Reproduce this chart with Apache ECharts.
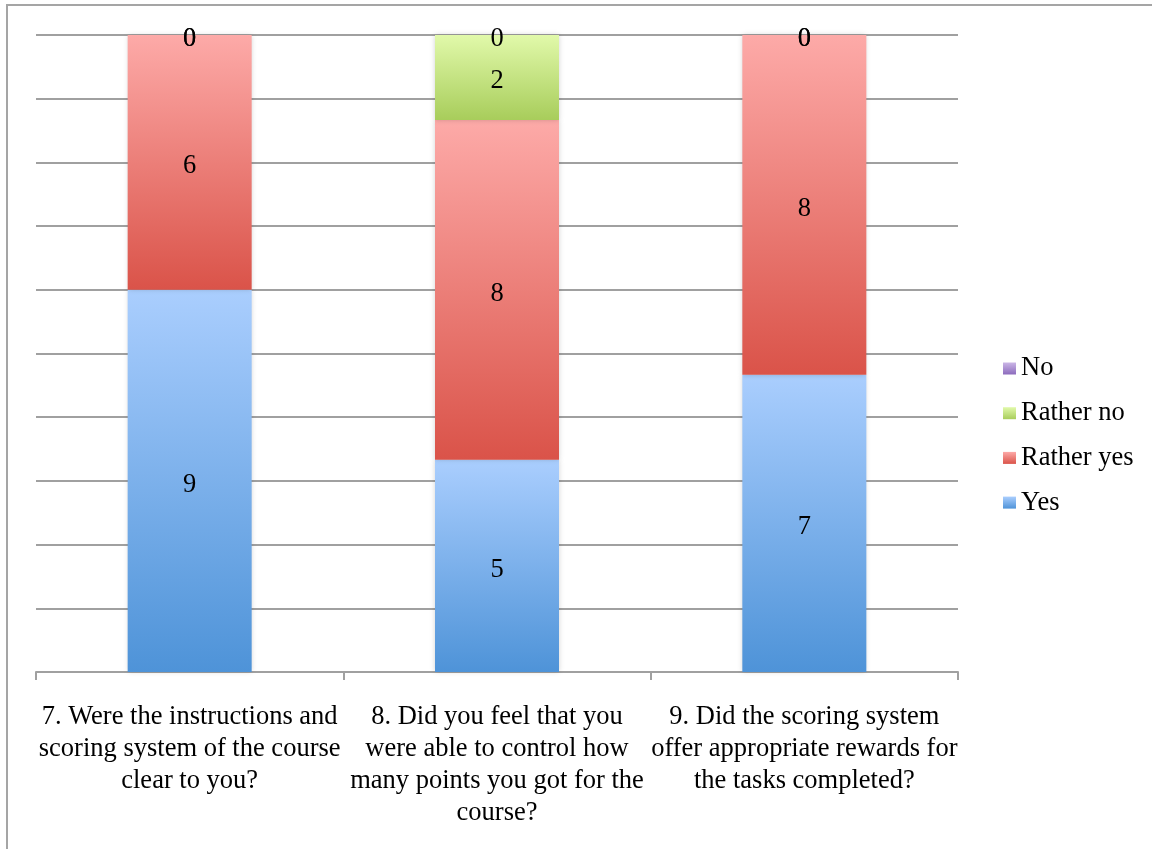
<!DOCTYPE html>
<html>
<head>
<meta charset="utf-8">
<script src="https://cdn.jsdelivr.net/npm/echarts@6/dist/echarts.min.js"></script>
<style>
  html, body { margin: 0; padding: 0; background: #fff; }
  #chart { width: 1152px; height: 849px; }
</style>
</head>
<body>
<div id="chart"></div>
<script>
// Survey questions (x-axis categories)
const questions = [
  '7. Were the instructions and\nscoring system of the course\nclear to you?',
  '8. Did you feel that you\nwere able to control how\nmany points you got for the\ncourse?',
  '9. Did the scoring system\noffer appropriate rewards for\nthe tasks completed?'
];

// Answer counts per question
const yesCounts = [9, 5, 7];
const ratherYesCounts = [6, 8, 8];
const ratherNoCounts = [0, 2, 0];
const noCounts = [0, 0, 0];

const serif = 'Liberation Serif';
const textSize = 26.5;

function grad(top, bottom) {
  return new echarts.graphic.LinearGradient(0, 0, 0, 1, [
    { offset: 0, color: top },
    { offset: 1, color: bottom }
  ]);
}

const palette = {
  yes: grad('#aacefe', '#4e93d8'),
  ratherYes: grad('#fdaaa8', '#da5349'),
  ratherNo: grad('#e1f9aa', '#a8cd5b'),
  no: grad('#cbb6e6', '#8c6bbd')
};

function makeSeries(name, data, color) {
  return {
    name: name,
    type: 'bar',
    stack: 'total',
    barWidth: 124,
    data: data,
    itemStyle: {
      color: color,
      shadowColor: 'rgba(0,0,0,0.18)',
      shadowBlur: 5
    },
    label: {
      show: true,
      position: 'inside',
      offset: [0, 4],
      color: '#000',
      fontFamily: serif,
      fontSize: textSize
    }
  };
}

const chart = echarts.init(document.getElementById('chart'), null, { renderer: 'canvas' });

chart.setOption({
  animation: false,
  backgroundColor: '#fff',
  graphic: [{
    type: 'rect',
    shape: { x: 7, y: 5, width: 1200, height: 900 },
    style: { fill: 'none', stroke: '#a5a5a5', lineWidth: 2 },
    z: -1
  }],
  grid: { left: 36, right: 194, top: 35, bottom: 177, containLabel: false },
  legend: {
    orient: 'vertical',
    left: 998,
    top: 350,
    itemWidth: 13,
    itemHeight: 12,
    itemGap: 17.7,
    icon: 'rect',
    data: ['No', 'Rather no', 'Rather yes', 'Yes'],
    textStyle: { fontFamily: serif, fontSize: textSize, color: '#000' }
  },
  xAxis: {
    type: 'category',
    data: questions,
    axisLine: { lineStyle: { color: '#a0a0a0', width: 2 } },
    axisTick: { show: true, length: 8, lineStyle: { color: '#a0a0a0', width: 2 } },
    axisLabel: {
      interval: 0,
      margin: 29,
      color: '#000',
      fontFamily: serif,
      fontSize: textSize,
      lineHeight: 32,
      align: 'center'
    }
  },
  yAxis: {
    type: 'value',
    min: 0,
    max: 15,
    interval: 1.5,
    axisLine: { show: false },
    axisTick: { show: false },
    axisLabel: { show: false },
    splitLine: { lineStyle: { color: '#a0a0a0', width: 2 } }
  },
  series: [
    makeSeries('Yes', yesCounts, palette.yes),
    makeSeries('Rather yes', ratherYesCounts, palette.ratherYes),
    makeSeries('Rather no', ratherNoCounts, palette.ratherNo),
    makeSeries('No', noCounts, palette.no)
  ]
});
</script>
</body>
</html>
